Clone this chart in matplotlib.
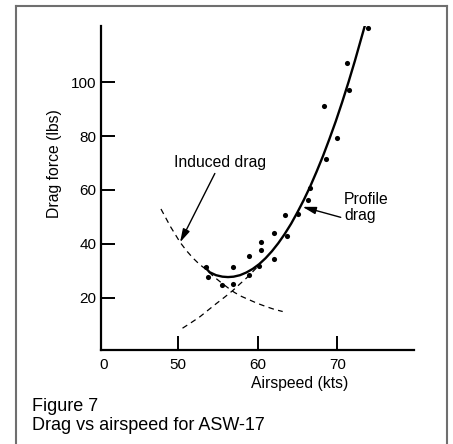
import matplotlib
matplotlib.use("Agg")
import matplotlib.pyplot as plt
from matplotlib.lines import Line2D

plt.rcParams['font.family'] = ['Liberation Sans', 'DejaVu Sans']

# ---- data ----
meas_speed = [53.6, 53.8, 55.5, 56.9, 56.9, 58.9, 58.9, 60.2, 60.4, 60.4, 62.0, 62.0,
              63.4, 63.7, 65.1, 66.35, 66.6, 68.35, 68.6, 69.96, 71.2, 71.5, 73.86]
meas_drag = [31.5, 27.8, 24.5, 31.2, 25.1, 35.3, 28.5, 31.9, 40.6, 37.8, 44.0, 34.3,
             50.7, 42.7, 51.2, 56.4, 60.8, 91.2, 71.3, 79.2, 107.2, 97.1, 120.0]

total_speed = [53.4, 54.0, 54.8, 55.6, 56.3, 57.0, 57.8, 58.6, 59.4, 60.2, 61.0, 61.8,
               62.6, 63.4, 64.2, 65.0, 65.8, 66.6, 67.4, 68.2, 69.0, 69.8, 70.6, 71.4,
               72.2, 73.0, 73.45]
total_drag = [31.3, 29.4, 28.3, 27.75, 27.6, 27.75, 28.3, 29.3, 30.65, 32.4, 34.6, 37.2,
              40.2, 43.6, 47.4, 51.7, 56.3, 61.3, 66.8, 72.6, 78.9, 85.5, 92.6, 100.1,
              108.0, 116.4, 121.1]

induced_speed = [47.9, 49.1, 50.3, 51.1, 51.9, 52.7, 53.6, 54.5, 55.5, 56.3, 57.1, 58.0,
                 59.0, 60.0, 61.1, 62.1, 63.15]
induced_drag = [52.9, 46.3, 40.5, 37.4, 34.7, 32.4, 30.3, 27.8, 25.4, 23.6, 21.9, 20.4,
                19.1, 17.8, 16.6, 15.6, 14.8]

profile_speed = [50.6, 51.7, 52.8, 53.8, 54.9, 55.9, 56.9, 57.7, 58.6, 59.4, 60.25]
profile_drag = [8.6, 10.7, 12.9, 15.3, 17.9, 20.2, 22.6, 24.8, 27.2, 29.6, 32.2]

x_ticks = [40.7, 50, 60, 70]
x_tick_labels = ["0", "50", "60", "70"]
y_ticks = [20, 40, 60, 80, 100]
y_tick_labels = ["20", "40", "60", "80", "100"]

# ---- figure ----
W, H = 453, 444
fig = plt.figure(figsize=(W / 100, H / 100), dpi=100)
ax = fig.add_axes([100.7 / W, 1 - 350 / H, (414 - 100.7) / W, (350 - 26) / H])

ax.plot(total_speed, total_drag, color='black', lw=1.7, solid_capstyle='round',
        solid_joinstyle='round')
ax.plot(induced_speed, induced_drag, color='black', lw=0.9, ls=(0, (4.5, 3.5)))
ax.plot(profile_speed, profile_drag, color='black', lw=0.9, ls=(0, (4.5, 3.5)))
ax.plot(meas_speed, meas_drag, 'o', color='black', ms=3.7, mec='none')

ax.set_xlim(40.35, 79.6)
ax.set_ylim(0.5, 120.9)

for s in ['top', 'right']:
    ax.spines[s].set_visible(False)
for s in ['left', 'bottom']:
    ax.spines[s].set_linewidth(1.6)
    ax.spines[s].set_color('black')

ax.set_xticks(x_ticks)
ax.set_xticklabels(x_tick_labels)
ax.set_yticks(y_ticks)
ax.set_yticklabels(y_tick_labels)
ax.tick_params(axis='both', direction='in', length=10, width=1.4, labelsize=11,
               colors='black')
ax.tick_params(axis='x', pad=6)
ax.tick_params(axis='y', length=10, pad=3)
ax.xaxis.get_major_ticks()[0].tick1line.set_visible(False)

ax.set_xlabel("Airspeed (kts)", fontsize=11.3)
ax.xaxis.set_label_coords(0.636, -0.080)
ax.set_ylabel("Drag force (lbs)", fontsize=11.3)
ax.yaxis.set_label_coords(-0.125, 0.574)

arrow = dict(arrowstyle='-|>,head_length=0.8,head_width=0.22', color='black', lw=1.0,
             shrinkA=0, shrinkB=0)
ax.annotate("", xy=(50.29, 40.5), xytext=(54.65, 66.1), arrowprops=arrow)
ax.text(55.3, 70.1, "Induced drag", fontsize=11.3, ha='center', va='center')
ax.annotate("", xy=(65.64, 53.7), xytext=(70.42, 49.8), arrowprops=arrow)
ax.text(70.83, 53.5, "Profile\ndrag", fontsize=11.3, ha='left', va='center',
        linespacing=1.1)

fig.text(32 / W, 1 - 406 / H, "Figure 7", fontsize=13, ha='left', va='center')
fig.text(32 / W, 1 - 425 / H, "Drag vs airspeed for ASW-17", fontsize=13,
         ha='left', va='center')

# frame around the figure (no bottom edge)
fc = '#6f6f6f'
L, T, R = 15.5 / W, 1 - 5.8 / H, 446.5 / W
fig.add_artist(Line2D([L, L], [0, T], color=fc, lw=1.5, transform=fig.transFigure))
fig.add_artist(Line2D([L, R], [T, T], color=fc, lw=1.5, transform=fig.transFigure))
fig.add_artist(Line2D([R, R], [0, T], color=fc, lw=1.5, transform=fig.transFigure))

fig.savefig("out.png", dpi=100)
